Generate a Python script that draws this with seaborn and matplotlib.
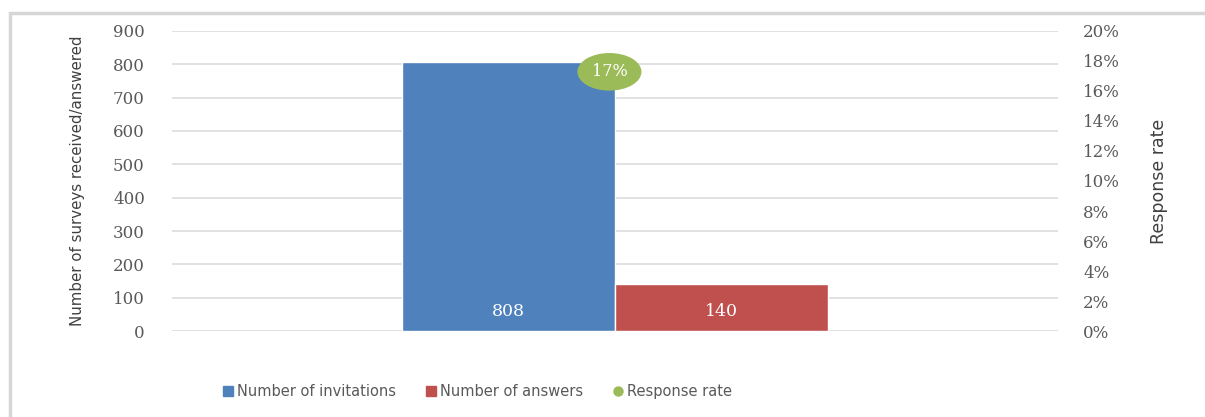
import matplotlib
matplotlib.use("Agg")
import matplotlib.pyplot as plt
from matplotlib.patches import Rectangle
from matplotlib.ticker import FuncFormatter, MultipleLocator
import pandas as pd
import seaborn as sns

# Survey figures
categories = ["Survey"]
series = ["Number of invitations", "Number of answers"]
counts = [808, 140]
rate_label = "Response rate"
response_rate = [0.17]

colors = {"Number of invitations": "#4F81BD", "Number of answers": "#C0504D"}
green = "#9BBB59"
grey_text = "#595959"

sns.set_theme(style="white")
plt.rcParams["font.family"] = ["DejaVu Sans"]

df = pd.DataFrame({
    "category": categories * len(series),
    "series": series,
    "count": counts,
})

fig = plt.figure(figsize=(12.05, 4.17), dpi=100)
ax = fig.add_axes([0.1427, 0.2062, 0.878 - 0.1427, 0.9257 - 0.2062])

sns.barplot(data=df, x="category", y="count", hue="series", palette=colors,
            width=0.48, gap=0, saturation=1, legend=False, ax=ax)

ax.set_xlim(-0.5, 0.5)
ax.set_ylim(0, 900)
ax.yaxis.set_major_locator(MultipleLocator(100))
ax.grid(axis="y", color="#dcdcdc", linewidth=1.2)
ax.set_axisbelow(True)
for s in ax.spines.values():
    s.set_visible(False)
ax.set_xticks([])
ax.set_xlabel("")
ax.tick_params(axis="y", length=0, pad=19.5, labelsize=12, labelcolor=grey_text)
for t in ax.get_yticklabels():
    t.set_family("DejaVu Serif")
ax.set_ylabel("Number of surveys received/answered", fontsize=10.8,
              color="#404040", labelpad=20)

# Value labels inside the bars
for bar, val in zip(ax.patches, counts):
    ax.text(bar.get_x() + bar.get_width() / 2, 60, f"{val}",
            ha="center", va="center", color="white", fontsize=12.5,
            family="DejaVu Serif")

# Secondary axis for the response rate
ax2 = ax.twinx()
ax2.set_ylim(0, 0.20)
ax2.yaxis.set_major_locator(MultipleLocator(0.02))
ax2.yaxis.set_major_formatter(FuncFormatter(lambda v, p: f"{v * 100:.0f}%"))
for s in ax2.spines.values():
    s.set_visible(False)
ax2.tick_params(axis="y", length=0, pad=18, labelsize=12, labelcolor=grey_text)
for t in ax2.get_yticklabels():
    t.set_family("DejaVu Serif")
ax2.set_ylabel(rate_label, fontsize=12.5, color="#404040", labelpad=22)

ax2.scatter([0], response_rate, s=60, color=green, zorder=4)
for x, r in zip([0], response_rate):
    ax2.annotate(f"{r * 100:.0f}%", (x, r), xytext=(-4, 3),
                 textcoords="offset points", ha="center", va="center",
                 color="white", fontsize=11.5, family="DejaVu Serif", zorder=5,
                 bbox=dict(boxstyle="ellipse,pad=0.3", fc=green, ec="none"))
ax2.grid(False)

# Legend
handles = [
    plt.Line2D([], [], marker="s", linestyle="", markersize=6.5,
               color=colors[series[0]], label=series[0]),
    plt.Line2D([], [], marker="s", linestyle="", markersize=6.5,
               color=colors[series[1]], label=series[1]),
    plt.Line2D([], [], marker="o", linestyle="", markersize=6.5,
               color=green, label=rate_label),
]
fig.legend(handles=handles, loc="center", bbox_to_anchor=(0.396, 0.06),
           ncol=3, frameon=False, fontsize=10.5, labelcolor=grey_text,
           handletextpad=0.2, columnspacing=2.0, handlelength=0.8)

# Outer chart frame
fig.patches.append(Rectangle((10 / 1205, -0.05), 1.2, 1 - 13 / 417 + 0.05,
                             transform=fig.transFigure, fill=False,
                             edgecolor="#d6d6d6", linewidth=2.5))

fig.savefig("out.png", dpi=100)
